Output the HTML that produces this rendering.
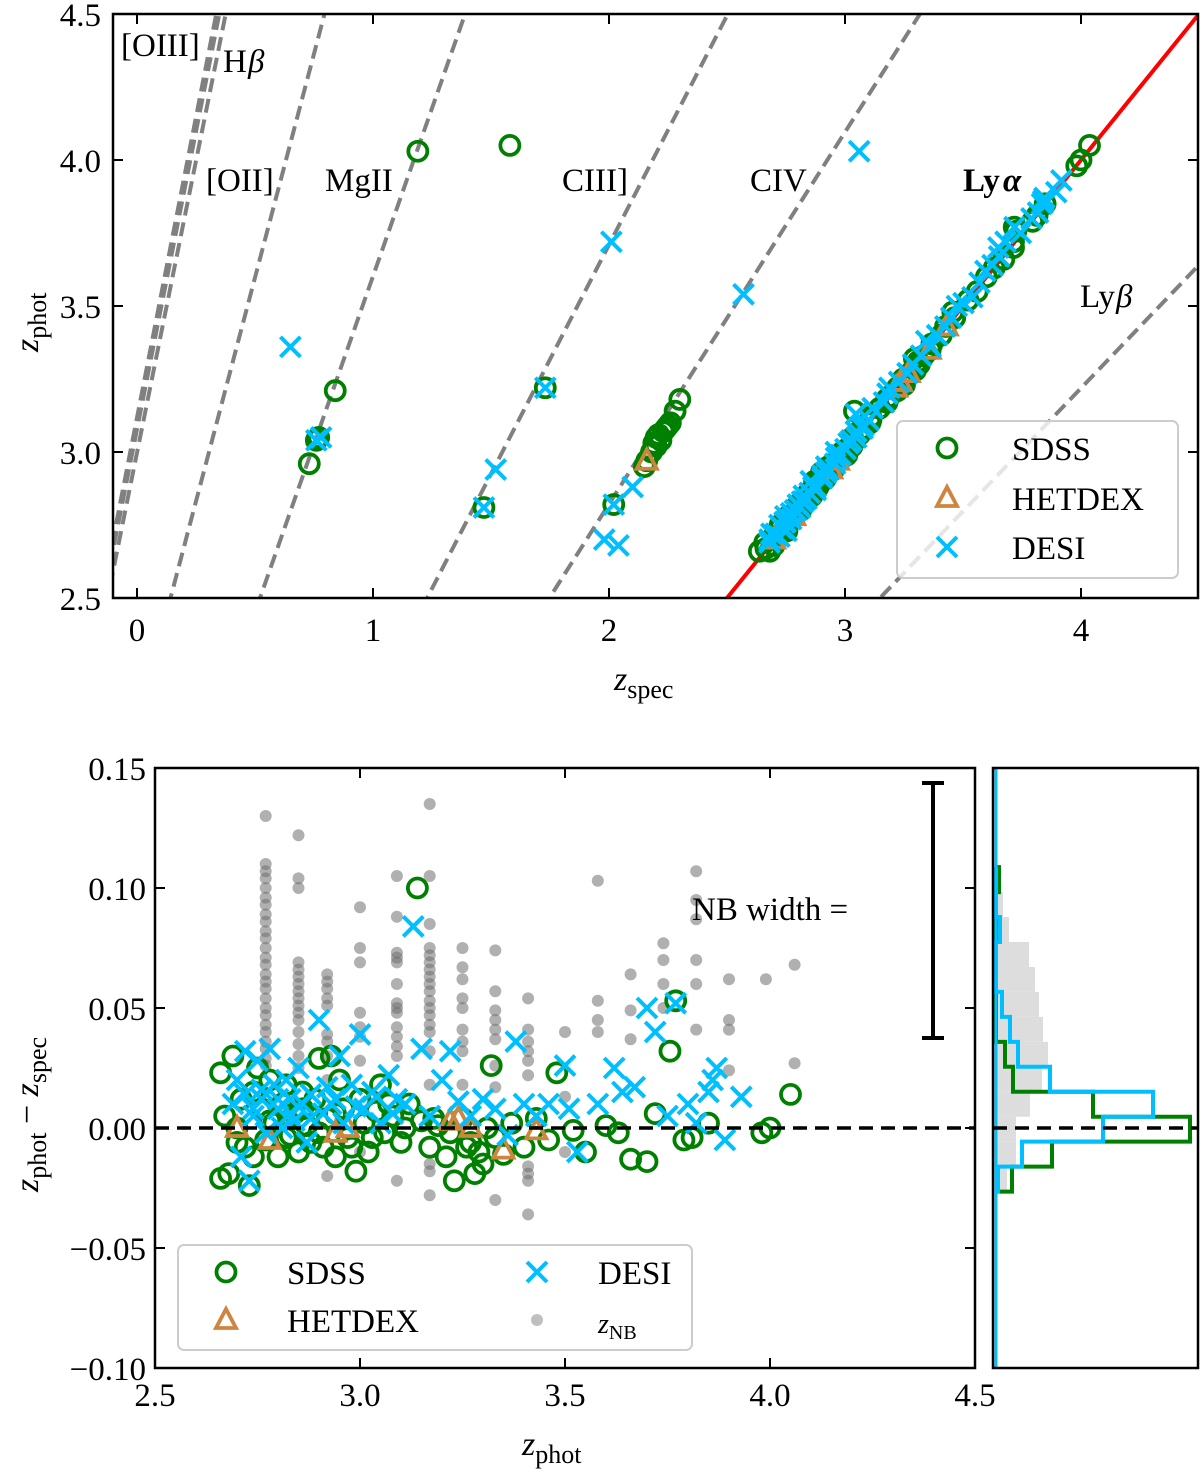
<!DOCTYPE html>
<html><head><meta charset="utf-8">
<style>
html,body{margin:0;padding:0;background:#fff;}
svg{display:block;font-family:"Liberation Serif","DejaVu Serif",serif;}
</style></head>
<body>
<svg id="chart" width="1200" height="1471" viewBox="0 0 1200 1471" xmlns="http://www.w3.org/2000/svg">
<defs>
<clipPath id="clipTop"><rect x="113" y="14" width="1085" height="584"/></clipPath>
<clipPath id="clipBot"><rect x="155" y="768" width="820" height="600"/></clipPath>
<clipPath id="clipHist"><rect x="993" y="768" width="205" height="600"/></clipPath>
</defs>
<g id="topPanel"></g>
<g id="botPanel"></g>
<g id="histPanel"></g>
</svg>
<script>
// ---------- data ----------
const lineNames = ["[OIII]a","[OIII]b","Hbeta","[OII]","MgII","CIII]","CIV","Lyalpha","Lybeta"];
const lineWaves = [5007,4959,4861,3727,2798,1909,1549,1216,1026];

// bottom panel: z_phot and (z_phot - z_spec)
const sdssZ  = [2.66,2.69,2.66,2.68,2.73,2.67,2.70,2.71,2.72,2.74,2.75,2.76,2.77,2.78,2.79,2.80,2.81,2.82,2.83,2.84,2.85,2.86,2.87,2.88,2.89,2.90,2.91,2.92,2.93,2.94,2.95,2.96,2.97,2.99,3.00,3.01,3.02,3.04,3.05,3.06,3.08,3.10,3.12,3.14,3.15,3.17,3.19,3.21,3.23,3.25,3.27,3.28,3.30,3.32,3.33,3.35,3.37,3.40,3.43,3.46,3.48,3.52,3.55,3.60,3.63,3.66,3.70,3.72,3.756,3.77,3.79,3.81,3.85,3.98,4.00,4.05,2.70,2.74,2.78,2.82,2.86,2.90,2.94,2.98,3.03,3.07,3.11,3.18,3.22,3.26,3.29,3.31];
const sdssDz = [0.023,0.030,-0.021,-0.019,-0.024,0.005,0.0,0.012,-0.008,0.015,0.025,0.008,-0.005,0.020,0.002,-0.012,0.010,0.018,-0.003,0.006,-0.010,0.015,0.001,-0.006,0.012,0.029,-0.008,0.004,0.030,-0.012,0.020,0.008,-0.004,-0.018,0.012,0.002,-0.010,0.007,0.018,-0.002,0.005,-0.006,0.010,0.100,0.003,-0.008,0.001,-0.012,-0.022,0.004,-0.006,-0.019,-0.015,0.026,-0.004,-0.011,0.002,-0.008,0.004,-0.005,0.023,-0.001,-0.010,0.001,-0.002,-0.013,-0.014,0.006,0.032,0.053,-0.005,-0.004,0.002,-0.002,0.0,0.014,-0.006,-0.012,0.003,-0.004,0.008,-0.002,0.006,-0.008,-0.004,0.010,0.000,0.004,-0.002,-0.008,-0.010,0.000];
const desiZ  = [2.69,2.70,2.71,2.72,2.73,2.74,2.75,2.76,2.77,2.78,2.79,2.80,2.81,2.82,2.83,2.84,2.85,2.86,2.87,2.88,2.90,2.91,2.92,2.93,2.95,2.96,2.98,3.00,3.01,3.03,3.05,3.07,3.09,3.11,3.13,3.15,3.17,3.20,3.22,3.24,3.27,3.30,3.33,3.36,3.38,3.40,3.43,3.46,3.50,3.51,3.53,3.58,3.62,3.64,3.67,3.70,3.72,3.75,3.77,3.80,3.82,3.85,3.86,3.87,3.89,3.93,2.72,2.74,2.76,2.80,2.83,2.88,2.94,2.99,3.04,3.08];
const desiDz = [0.010,0.020,-0.012,0.032,-0.022,0.005,0.028,0.012,-0.002,0.033,0.018,0.008,0.000,0.020,0.012,0.003,0.025,0.010,-0.006,0.014,0.045,0.006,0.017,0.010,0.030,0.002,0.018,0.039,0.008,0.015,0.002,0.022,0.012,0.010,0.084,0.033,0.005,0.020,0.032,0.011,0.005,0.012,0.008,-0.003,0.036,0.010,0.005,0.010,0.026,0.008,-0.010,0.010,0.025,0.015,0.017,0.050,0.040,0.005,0.052,0.010,0.002,0.015,0.020,0.025,-0.005,0.013,0.014,0.008,0.016,0.012,0.006,0.004,0.012,0.009,0.013,0.006];
const hetZ   = [2.70,2.78,2.94,2.97,3.22,3.24,3.27,3.35,3.43];
const hetDz  = [0.0,-0.005,-0.002,0.0,0.003,0.004,0.0,-0.009,-0.001];
const nbZ  = [2.77,2.77,2.77,2.77,2.77,2.77,2.77,2.77,2.77,2.77,2.77,2.77,2.77,2.77,2.77,2.77,2.77,2.77,2.77,2.77,2.77,2.77,2.77,2.77,2.77,2.77,
  2.85,2.85,2.85,2.85,2.85,2.85,2.85,2.85,2.85,2.85,2.85,2.85,2.85,2.85,2.85,2.85,
  2.92,2.92,2.92,2.92,2.92,2.92,2.92,2.92,2.92,2.92,
  3.00,3.00,3.00,3.00,3.00,3.00,3.00,3.00,
  3.09,3.09,3.09,3.09,3.09,3.09,3.09,3.09,3.09,3.09,3.09,3.09,3.09,3.09,
  3.17,3.17,3.17,3.17,3.17,3.17,3.17,3.17,3.17,3.17,3.17,3.17,3.17,3.17,3.17,3.17,3.17,3.17,3.17,3.17,
  3.25,3.25,3.25,3.25,3.25,3.25,3.25,3.25,3.25,
  3.33,3.33,3.33,3.33,3.33,3.33,3.33,3.33,3.33,
  3.41,3.41,3.41,3.41,3.41,3.41,3.41,3.41,3.41,3.41,
  3.50,3.50,3.50,3.58,3.58,3.58,3.58,3.66,3.66,3.66,3.74,3.74,3.74,3.74,3.82,3.82,3.82,3.82,3.82,3.82,3.90,3.90,3.90,3.90,3.99,4.06,4.06];
const nbDz = [0.130,0.110,0.107,0.104,0.100,0.096,0.093,0.089,0.086,0.082,0.079,0.075,0.071,0.068,0.064,0.061,0.058,0.054,0.050,0.047,0.043,0.040,0.036,0.033,0.029,0.026,
  0.122,0.104,0.100,0.069,0.066,0.063,0.060,0.057,0.054,0.051,0.048,0.045,0.040,0.035,0.030,0.025,
  0.064,0.061,0.058,0.054,0.051,0.039,0.036,0.030,0.020,-0.020,
  0.092,0.075,0.069,0.048,0.042,0.038,0.028,-0.010,
  0.105,0.088,0.073,0.071,0.069,0.060,0.052,0.050,0.048,0.042,0.038,0.034,0.030,-0.022,
  0.135,0.105,0.085,0.075,0.072,0.069,0.066,0.063,0.060,0.057,0.053,0.050,0.047,0.043,0.040,0.032,0.018,-0.015,-0.018,-0.028,
  0.075,0.067,0.062,0.054,0.050,0.041,0.036,0.032,0.018,
  0.074,0.057,0.049,0.045,0.041,0.037,0.026,0.017,-0.030,
  0.054,0.041,0.036,0.032,0.028,0.022,-0.016,-0.019,-0.022,-0.036,
  0.040,0.013,-0.010,0.103,0.053,0.045,0.040,0.064,0.049,0.037,0.077,0.070,0.060,0.050,0.107,0.095,0.087,0.070,0.060,0.041,0.062,0.045,0.041,0.024,0.062,0.068,0.027];

// top panel outliers (z_spec, z_phot)
const sdssOutSpec = [1.19,1.58,0.84,0.73,0.76,0.77,1.47,1.73,2.02,2.15,2.18,2.19,2.20,2.21,2.22,2.23,2.25,2.26,2.28,2.30,2.16,2.20,2.24];
const sdssOutPhot = [4.03,4.05,3.21,2.96,3.04,3.05,2.81,3.22,2.82,2.95,3.00,3.03,3.05,3.06,3.04,3.07,3.09,3.10,3.14,3.18,2.97,3.02,3.08];
const desiOutSpec = [0.65,0.76,0.78,1.47,1.52,1.73,2.01,2.57,3.06,1.98,2.04,2.02,2.10];
const desiOutPhot = [3.36,3.04,3.05,2.81,2.94,3.22,3.72,3.54,4.03,2.70,2.68,2.82,2.88];
const hetOutSpec = [2.16];
const hetOutPhot = [2.97];

// histogram (bin lower edges and heights in arbitrary counts)
const binLo = [-0.0265,-0.0161,-0.0057,0.0047,0.0151,0.0255,0.0359,0.0463,0.0567,0.0671,0.0775,0.0879,0.0983];
const histNB   = [11,20,20,34,46,52,47,43,39,33,13,7,4];
const histSDSS = [16,56,194,97,17,9,0,0,0,0,0,0,3];
const histDESI = [2,26,107,157,54,22,14,6,0,0,4,0,0];

const topXTicks = [0,1,2,3,4];
const topYTicks = [2.5,3.0,3.5,4.0,4.5];
const botXTicks = [2.5,3.0,3.5,4.0,4.5];
const botYTicks = [-0.10,-0.05,0.00,0.05,0.10,0.15];

// ---------- scales ----------
const tx = v => 137 + v*236;
const ty = v => 598 - (v-2.5)*292;
const bx = v => 155 + (v-2.5)*410;
const by = v => 1128 - v*2400;
const hx = v => 996 + v*1.0;

const NS="http://www.w3.org/2000/svg";
function mk(tag, attrs, parent){const e=document.createElementNS(NS,tag);for(const k in attrs)e.setAttribute(k,attrs[k]);parent.appendChild(e);return e;}
const GREEN="#008000", BLUE="#00BFFF", PERU="#CD853F";
const FS=33;

function circ(g,x,y){const e=mk('circle',{cx:x,cy:y,r:9.5,fill:'none',stroke:GREEN,'stroke-width':3.8},g);

}
function cross(g,x,y){const e=mk('path',{d:`M${x-10},${y-10}L${x+10},${y+10}M${x-10},${y+10}L${x+10},${y-10}`,stroke:BLUE,'stroke-width':4,fill:'none'},g);

}
function tri(g,x,y){const e=mk('path',{d:`M${x},${y-11}L${x+10},${y+8}L${x-10},${y+8}Z`,stroke:PERU,'stroke-width':3.8,fill:'none'},g);

}
function txt(g,x,y,s,opts){const e=mk('text',Object.assign({x:x,y:y,'font-size':FS,fill:'#000'},opts||{}),g);e.textContent=s;return e;}
function sub(g,x,y,subs,fs,sfs,rot){
  const attrs={x:x,y:y,'font-size':fs,'font-style':'italic'};
  if(rot) attrs.transform=rot;
  const e=mk('text',attrs,g);
  subs.forEach(p=>{
    const a=mk('tspan',{},e); a.textContent=p[0];
    if(p[1]) {a.setAttribute('font-size',sfs);a.setAttribute('font-style','normal');}
    if(p[2]) a.setAttribute('dy',p[2]);
    if(p[3]) a.setAttribute('font-style','normal');
  });
  return e;
}

// ---------- top panel ----------
const topG=document.getElementById('topPanel');
const tc=mk('g',{'clip-path':'url(#clipTop)'},topG);
lineWaves.forEach((w,i)=>{
  const zA=2.4, zB=4.6;
  const sA=(1+zA)*1216/w-1, sB=(1+zB)*1216/w-1;
  const isLya = w===1216;
  const attrs={x1:tx(sA),y1:ty(zA),x2:tx(sB),y2:ty(zB),stroke:isLya?'#ff0000':'#808080','stroke-width':4};
  if(!isLya) attrs['stroke-dasharray']='14,7';
  const l=mk('line',attrs,tc);
  
  
});
sdssZ.forEach((z,i)=>circ(tc,tx(z-sdssDz[i]),ty(z)));
sdssOutSpec.forEach((s,i)=>circ(tc,tx(s),ty(sdssOutPhot[i])));
hetZ.forEach((z,i)=>tri(tc,tx(z-hetDz[i]),ty(z)));
hetOutSpec.forEach((s,i)=>tri(tc,tx(s),ty(hetOutPhot[i])));
desiZ.forEach((z,i)=>cross(tc,tx(z-desiDz[i]),ty(z)));
desiOutSpec.forEach((s,i)=>cross(tc,tx(s),ty(desiOutPhot[i])));

const labs=[["[OIII]",121,56],["H",223,72],["[OII]",206,191],["MgII",325,191],["CIII]",562,191],["CIV",750,191],["Ly",1080,307]];
labs.forEach(a=>{const t=txt(topG,a[1],a[2],a[0]);});
txt(topG,248,72,"β",{'font-style':'italic'});
txt(topG,1116,307,"β",{'font-style':'italic'});
const lya=txt(topG,963,191,"Ly",{'font-weight':'bold'});


txt(topG,1003,191,"α",{'font-weight':'bold','font-style':'italic'});

// legend top
const lgT=mk('g',{},topG);


mk('rect',{x:897,y:421,width:281,height:157,rx:6,fill:'#fff','fill-opacity':0.8,stroke:'#ccc','stroke-width':2},lgT);
circ(lgT,947,448); txt(lgT,1012,460,"SDSS");
tri(lgT,947,498); txt(lgT,1012,510,"HETDEX");
cross(lgT,947,547); txt(lgT,1012,559,"DESI");

// axes top
mk('rect',{x:113,y:14,width:1085,height:584,fill:'none',stroke:'#000','stroke-width':2.5},topG);
topXTicks.forEach(v=>{const x=tx(v);
  mk('line',{x1:x,y1:598,x2:x,y2:588,stroke:'#000','stroke-width':2},topG);
  mk('line',{x1:x,y1:14,x2:x,y2:24,stroke:'#000','stroke-width':2},topG);
  const t=txt(topG,x,641,String(v),{'text-anchor':'middle'});
  });
topYTicks.forEach(v=>{const y=ty(v);
  mk('line',{x1:113,y1:y,x2:123,y2:y,stroke:'#000','stroke-width':2},topG);
  mk('line',{x1:1198,y1:y,x2:1188,y2:y,stroke:'#000','stroke-width':2},topG);
  const t=txt(topG,101,y+12,v.toFixed(1),{'text-anchor':'end'});
  });
const xtT=sub(topG,614,690,[['z',0,0],['spec',1,8]],34,26);

const ytT=sub(topG,0,0,[['z',0,0],['phot',1,8]],34,26,'translate(38,352) rotate(-90)');


// ---------- bottom panel ----------
const botG=document.getElementById('botPanel');
const bc=mk('g',{'clip-path':'url(#clipBot)'},botG);
nbZ.forEach((z,i)=>{const e=mk('circle',{cx:bx(z),cy:by(nbDz[i]),r:6,fill:'#707070','fill-opacity':0.55},bc);

});
sdssZ.forEach((z,i)=>circ(bc,bx(z),by(sdssDz[i])));
hetZ.forEach((z,i)=>tri(bc,bx(z),by(hetDz[i])));
desiZ.forEach((z,i)=>cross(bc,bx(z),by(desiDz[i])));
mk('line',{x1:155,y1:by(0),x2:975,y2:by(0),stroke:'#000','stroke-width':3.5,'stroke-dasharray':'14,8'},botG);
// NB width bar
const nbb=mk('g',{},botG);


mk('line',{x1:933,y1:783,x2:933,y2:1038,stroke:'#000','stroke-width':4},nbb);
mk('line',{x1:922,y1:783,x2:944,y2:783,stroke:'#000','stroke-width':4},nbb);
mk('line',{x1:922,y1:1038,x2:944,y2:1038,stroke:'#000','stroke-width':4},nbb);
txt(botG,692,920,"NB width =");
// legend bottom
const lgB=mk('g',{},botG);


mk('rect',{x:178,y:1245,width:514,height:105,rx:6,fill:'#fff','fill-opacity':0.8,stroke:'#ccc','stroke-width':2},lgB);
circ(lgB,226,1272); txt(lgB,287,1284,"SDSS");
tri(lgB,226,1320); txt(lgB,287,1332,"HETDEX");
cross(lgB,537,1272); txt(lgB,598,1284,"DESI");
mk('circle',{cx:537,cy:1320,r:6,fill:'#808080','fill-opacity':0.5},lgB);
sub(lgB,598,1333,[['z',0,0],['NB',1,6]],28,20);
// axes bottom
mk('rect',{x:155,y:768,width:820,height:600,fill:'none',stroke:'#000','stroke-width':2.5},botG);
botXTicks.forEach(v=>{const x=bx(v);
  mk('line',{x1:x,y1:1368,x2:x,y2:1358,stroke:'#000','stroke-width':2},botG);
  mk('line',{x1:x,y1:768,x2:x,y2:778,stroke:'#000','stroke-width':2},botG);
  const t=txt(botG,x,1406,v.toFixed(1),{'text-anchor':'middle'});
  });
botYTicks.forEach(v=>{const y=by(v);
  mk('line',{x1:155,y1:y,x2:165,y2:y,stroke:'#000','stroke-width':2},botG);
  mk('line',{x1:975,y1:y,x2:965,y2:y,stroke:'#000','stroke-width':2},botG);
  const s=(v<0?'\u2212':'')+Math.abs(v).toFixed(2);
  const t=txt(botG,146,y+12,s,{'text-anchor':'end'});
  });
const xtB=sub(botG,522,1455,[['z',0,0],['phot',1,8]],34,26);

const ytB=sub(botG,0,0,[['z',0,0],['phot',1,8],[' \u2212 ',0,-8,1],['z',0,0],['spec',1,8]],34,26,'translate(38,1192) rotate(-90)');


// ---------- histogram ----------
const histG=document.getElementById('histPanel');
const hc=mk('g',{'clip-path':'url(#clipHist)'},histG);
const bw=0.0104;
binLo.forEach((lo,i)=>{const y1=by(lo+bw), y0=by(lo);
  const r=mk('rect',{x:hx(0),y:y1,width:hx(histNB[i])-hx(0),height:y0-y1,fill:'#dddddd'},hc);
  
  });
function stepPath(vals){let d=`M${hx(0)},${by(binLo[0])}`;
  vals.forEach((v,i)=>{d+=`L${hx(v)},${by(binLo[i])}L${hx(v)},${by(binLo[i]+bw)}`;});
  d+=`L${hx(0)},${by(binLo[binLo.length-1]+bw)}`;return d;}
const hs=mk('path',{d:stepPath(histSDSS),fill:'none',stroke:GREEN,'stroke-width':4},hc);


const hd=mk('path',{d:stepPath(histDESI),fill:'none',stroke:BLUE,'stroke-width':4},hc);


mk('line',{x1:hx(0),y1:768,x2:hx(0),y2:1368,stroke:BLUE,'stroke-width':3},hc);
mk('line',{x1:993,y1:by(0),x2:1198,y2:by(0),stroke:'#000','stroke-width':3.5,'stroke-dasharray':'14,8'},histG);
mk('rect',{x:993,y:768,width:205,height:600,fill:'none',stroke:'#000','stroke-width':2.5},histG);
</script>
</body></html>
